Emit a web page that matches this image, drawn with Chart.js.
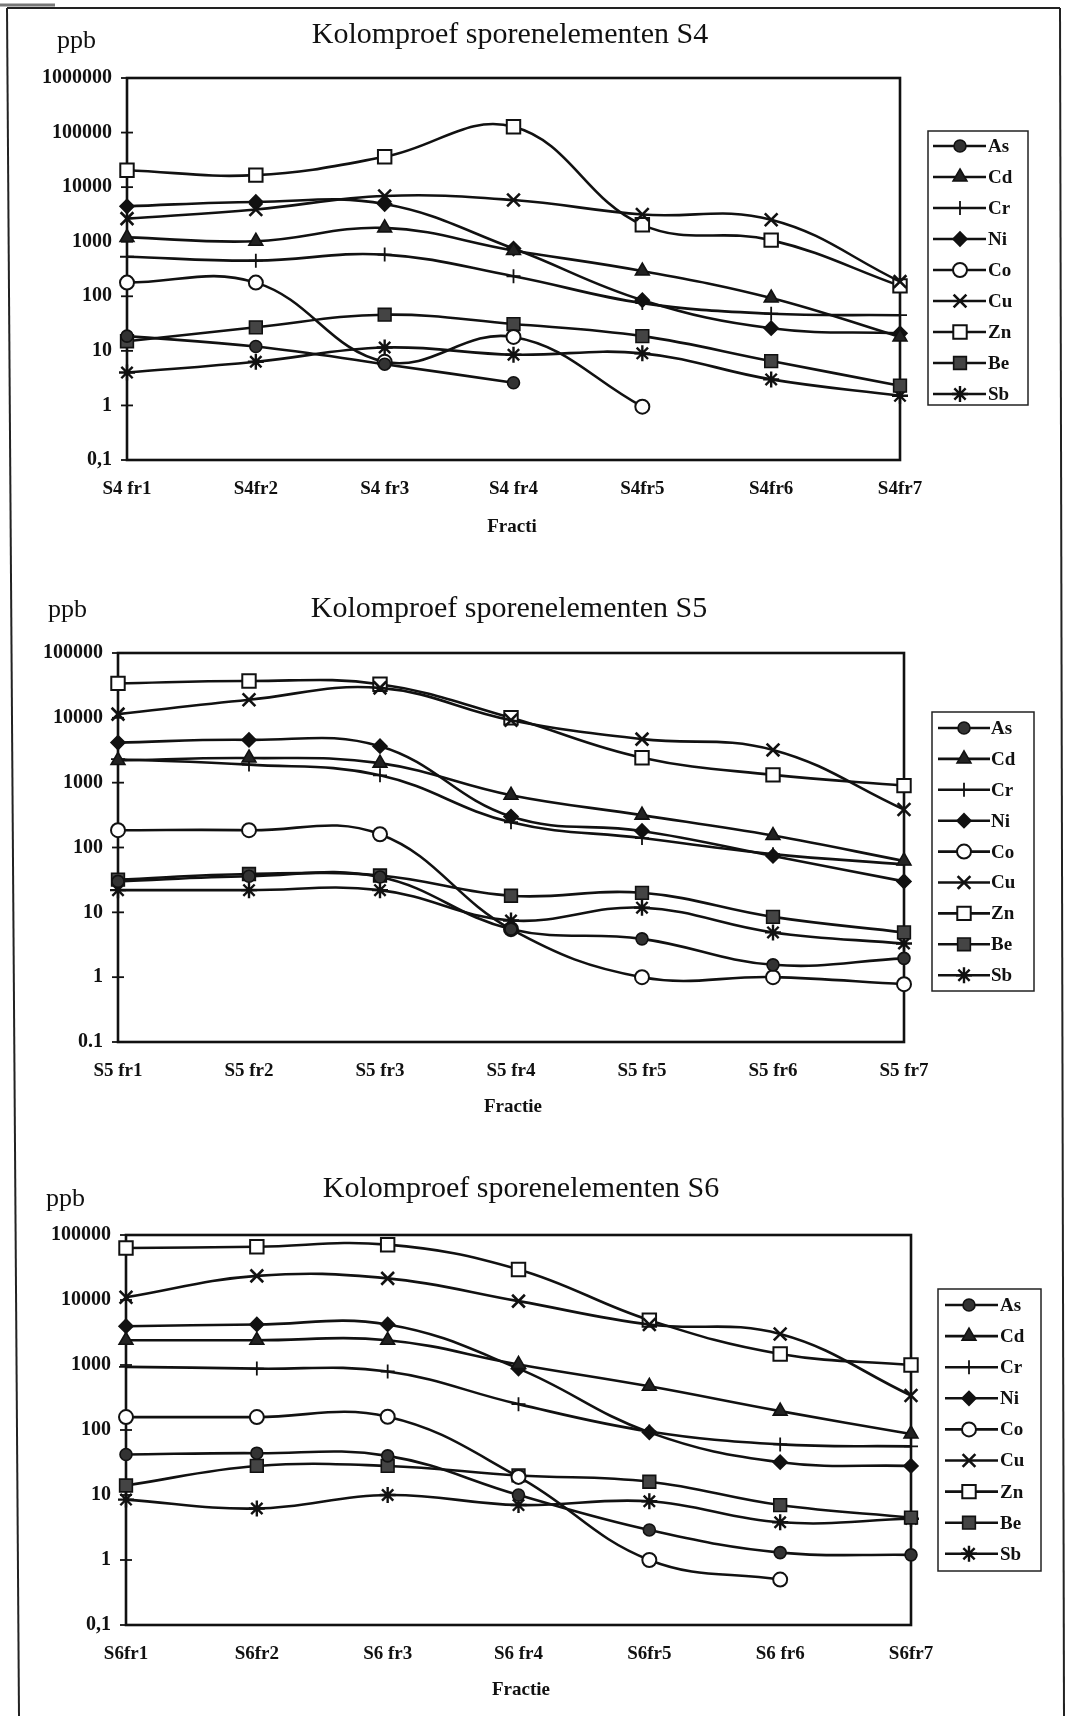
<!DOCTYPE html>
<html>
<head>
<meta charset="utf-8">
<script src="https://cdn.jsdelivr.net/npm/chart.js@4.4.1/dist/chart.umd.min.js"></script>
<style>
  body { margin: 0; background: #fff; width: 1077px; height: 1716px; position: relative; overflow: hidden; }
  canvas { position: absolute; left: 0; }
  svg { position: absolute; left: 0; top: 0; }
</style>
</head>
<body>
<svg width="1077" height="1716">
  <line x1="0" y1="5" x2="55" y2="5" stroke="#777" stroke-width="3"/>
  <line x1="7" y1="8" x2="1060" y2="8" stroke="#222" stroke-width="2"/>
  <line x1="7" y1="8" x2="19" y2="1716" stroke="#222" stroke-width="2"/>
  <line x1="1060" y1="8" x2="1064" y2="1716" stroke="#222" stroke-width="2"/>
</svg>
<canvas id="c1" width="1077" height="570" style="top:0px"></canvas>
<canvas id="c2" width="1077" height="580" style="top:570px"></canvas>
<canvas id="c3" width="1077" height="566" style="top:1150px"></canvas>
<script>
// Data
const ELEMENTS = ['As', 'Cd', 'Cr', 'Ni', 'Co', 'Cu', 'Zn', 'Be', 'Sb'];

const S4_LABELS = ['S4 fr1', 'S4fr2', 'S4 fr3', 'S4 fr4', 'S4fr5', 'S4fr6', 'S4fr7'];
const S5_LABELS = ['S5 fr1', 'S5 fr2', 'S5 fr3', 'S5 fr4', 'S5 fr5', 'S5 fr6', 'S5 fr7'];
const S6_LABELS = ['S6fr1', 'S6fr2', 'S6 fr3', 'S6 fr4', 'S6fr5', 'S6 fr6', 'S6fr7'];

const S4_TICKS = [0.1, 1, 10, 100, 1000, 10000, 100000, 1000000];
const S4_TICK_LABELS = ['0,1', '1', '10', '100', '1000', '10000', '100000', '1000000'];
const S5_TICKS = [0.1, 1, 10, 100, 1000, 10000, 100000];
const S5_TICK_LABELS = ['0.1', '1', '10', '100', '1000', '10000', '100000'];
const S6_TICKS = [0.1, 1, 10, 100, 1000, 10000, 100000];
const S6_TICK_LABELS = ['0,1', '1', '10', '100', '1000', '10000', '100000'];

// rows follow ELEMENTS order
const S4_VALUES = [
  [18.6, 12, 5.7, 2.6, null, null, null],          // As
  [1200, 1020, 1790, 690, 290, 93, 18],            // Cd
  [530, 450, 580, 233, 75, 48, 45],                // Cr
  [4450, 5350, 4900, 750, 85, 26, 21],             // Ni
  [178, 178, 6.3, 18, 0.95, null, null],           // Co
  [2650, 3900, 6900, 5800, 3150, 2530, 186],       // Cu
  [20400, 16600, 36000, 128000, 2040, 1070, 155],  // Zn
  [15, 27, 46, 31, 18.6, 6.5, 2.3],                // Be
  [4.0, 6.3, 11.5, 8.5, 9, 3.0, 1.5]               // Sb
];
const S5_VALUES = [
  [30, 36, 35, 5.5, 3.9, 1.55, 1.95],              // As
  [2200, 2400, 2000, 640, 316, 153, 62],           // Cd
  [2300, 1900, 1300, 245, 140, 79, 55],            // Cr
  [4150, 4570, 3650, 300, 180, 74, 30],            // Ni
  [185, 185, 160, 5.5, 1.0, 1.0, 0.78],            // Co
  [11400, 19000, 29000, 9200, 4700, 3200, 385],    // Cu
  [34000, 37000, 33000, 10000, 2430, 1320, 900],   // Zn
  [32, 39, 37, 18, 20, 8.5, 4.9],                  // Be
  [22, 22, 22, 7.5, 11.8, 4.9, 3.3]                // Sb
];
const S6_VALUES = [
  [42, 44, 40, 10, 2.9, 1.3, 1.2],                 // As
  [2400, 2400, 2400, 1020, 470, 195, 87],          // Cd
  [935, 880, 795, 250, 95, 60, 56],                // Cr
  [3950, 4200, 4200, 880, 92, 32, 28],             // Ni
  [158, 158, 160, 19, 1.0, 0.5, null],             // Co
  [11000, 23500, 21500, 9600, 4200, 3000, 340],    // Cu
  [63000, 66000, 71000, 29500, 4900, 1480, 1000],  // Zn
  [14, 28, 28, 20, 16, 7, 4.5],                    // Be
  [8.5, 6.2, 10, 7, 8, 3.8, 4.3]                   // Sb
];

// Marker look per element
const MARKERS = [
  {style: 'circle', r: 6, fill: '#333', bw: 1.6},
  {style: 'triangle', r: 8, fill: '#222', bw: 1.6},
  {style: 'cross', r: 7, fill: '#111', bw: 1.8},
  {style: 'rectRot', r: 7, fill: '#111', bw: 1.6},
  {style: 'circle', r: 7, fill: '#fff', bw: 2},
  {style: 'crossRot', r: 9, fill: '#111', bw: 2.6},
  {style: 'rect', r: 9.5, fill: '#fff', bw: 2},
  {style: 'rect', r: 9, fill: '#444', bw: 1.6},
  {style: 'star', r: 8, fill: '#111', bw: 2.4}
];

const FONT = "'Liberation Serif', 'Times New Roman', serif";
Chart.defaults.font.family = FONT;
Chart.defaults.color = '#111';

function marker(ctx, m, x, y) {
  ctx.fillStyle = m.fill;
  ctx.strokeStyle = '#111';
  ctx.lineWidth = m.bw;
  if (Chart.helpers && Chart.helpers.drawPoint) {
    Chart.helpers.drawPoint(ctx, {pointStyle: m.style, radius: m.r, rotation: 0, borderWidth: m.bw}, x, y);
  } else {
    ctx.beginPath(); ctx.arc(x, y, m.r, 0, Math.PI * 2); ctx.fill(); ctx.stroke();
  }
}

const decor = {
  id: 'decor',
  beforeDatasetsDraw(chart, args, o) {
    const {ctx, chartArea: a} = chart;
    const y = chart.scales.y;
    ctx.save();
    ctx.strokeStyle = '#111';
    ctx.lineWidth = 2.6;
    ctx.strokeRect(a.left, a.top, a.right - a.left, a.bottom - a.top);
    ctx.lineWidth = 1.8;
    y.ticks.forEach(t => {
      const py = y.getPixelForValue(t.value);
      ctx.beginPath(); ctx.moveTo(a.left - 6, py); ctx.lineTo(a.left + 6, py); ctx.stroke();
    });
    ctx.restore();
  },
  afterDraw(chart, args, o) {
    const ctx = chart.ctx;
    ctx.save();
    ctx.fillStyle = '#111';
    ctx.textBaseline = 'alphabetic';
    ctx.textAlign = 'center';
    ctx.font = '30px ' + FONT;
    ctx.fillText(o.title, o.titleX, o.titleY);
    ctx.textAlign = 'left';
    ctx.font = '26px ' + FONT;
    ctx.fillText('ppb', o.ppbX, o.ppbY);
    ctx.textAlign = 'center';
    ctx.textBaseline = 'middle';
    ctx.font = 'bold 19px ' + FONT;
    ctx.fillText(o.xTitle, o.xTitleX, o.xTitleY);

    // legend box
    const L = o.legend;
    ctx.strokeStyle = '#222';
    ctx.lineWidth = 1.5;
    ctx.strokeRect(L.x, L.y, L.w, L.h);
    ctx.font = 'bold 19px ' + FONT;
    ctx.textAlign = 'left';
    chart.data.datasets.forEach((ds, i) => {
      const ly = L.y0 + i * L.step;
      ctx.strokeStyle = '#111';
      ctx.lineWidth = 2.6;
      ctx.beginPath(); ctx.moveTo(L.x0, ly); ctx.lineTo(L.x1, ly); ctx.stroke();
      marker(ctx, MARKERS[i], L.mx, ly);
      ctx.fillStyle = '#111';
      ctx.fillText(ds.label, L.tx, ly + 1);
    });
    ctx.restore();
  }
};

function makeChart(id, labels, values, ticks, tickLabels, box, extra) {
  const canvas = document.getElementById(id);
  const W = canvas.width, H = canvas.height;
  return new Chart(canvas, {
    type: 'line',
    data: {
      labels: labels,
      datasets: values.map((vals, i) => ({
        label: ELEMENTS[i],
        data: vals,
        borderColor: '#111',
        borderWidth: 2.6,
        tension: 0.4,
        clip: false,
        pointStyle: MARKERS[i].style,
        pointRadius: MARKERS[i].r,
        pointBackgroundColor: MARKERS[i].fill,
        pointBorderColor: '#111',
        pointBorderWidth: MARKERS[i].bw
      }))
    },
    options: {
      responsive: false,
      animation: false,
      layout: {padding: {left: 0, right: W - box.right, top: box.top, bottom: 0}},
      plugins: {
        legend: {display: false},
        tooltip: {enabled: false},
        decor: extra
      },
      scales: {
        x: {
          type: 'category',
          offset: false,
          grid: {display: false, drawTicks: false},
          border: {display: false},
          ticks: {font: {size: 19, weight: 'bold'}, padding: 18, maxRotation: 0, autoSkip: false, color: '#111'},
          afterFit: s => { s.height = H - box.bottom; }
        },
        y: {
          type: 'logarithmic',
          min: ticks[0],
          max: ticks[ticks.length - 1],
          grid: {display: false, drawTicks: false},
          border: {display: false},
          ticks: {
            font: {size: 20, weight: 'bold'},
            padding: 15,
            color: '#111',
            callback: (v, i) => tickLabels[i]
          },
          afterBuildTicks: s => { s.ticks = ticks.map(v => ({value: v})); },
          afterFit: s => { s.width = box.left; }
        }
      }
    },
    plugins: [decor]
  });
}

makeChart('c1', S4_LABELS, S4_VALUES, S4_TICKS, S4_TICK_LABELS,
  {left: 127, right: 900, top: 78, bottom: 460},
  {title: 'Kolomproef sporenelementen S4', titleX: 510, titleY: 43, ppbX: 57, ppbY: 48,
   xTitle: 'Fracti', xTitleX: 512, xTitleY: 527,
   legend: {x: 928, y: 131, w: 100, h: 274, y0: 146, step: 31, x0: 933, x1: 986, mx: 960, tx: 988}});

makeChart('c2', S5_LABELS, S5_VALUES, S5_TICKS, S5_TICK_LABELS,
  {left: 118, right: 904, top: 83, bottom: 472},
  {title: 'Kolomproef sporenelementen S5', titleX: 509, titleY: 47, ppbX: 48, ppbY: 47,
   xTitle: 'Fractie', xTitleX: 513, xTitleY: 537,
   legend: {x: 932, y: 142, w: 102, h: 279, y0: 158, step: 30.9, x0: 938, x1: 990, mx: 964, tx: 991}});

makeChart('c3', S6_LABELS, S6_VALUES, S6_TICKS, S6_TICK_LABELS,
  {left: 126, right: 911, top: 85, bottom: 475},
  {title: 'Kolomproef sporenelementen S6', titleX: 521, titleY: 47, ppbX: 46, ppbY: 56,
   xTitle: 'Fractie', xTitleX: 521, xTitleY: 540,
   legend: {x: 938, y: 139, w: 103, h: 282, y0: 155, step: 31.1, x0: 945, x1: 998, mx: 969, tx: 1000}});
</script>
</body>
</html>
